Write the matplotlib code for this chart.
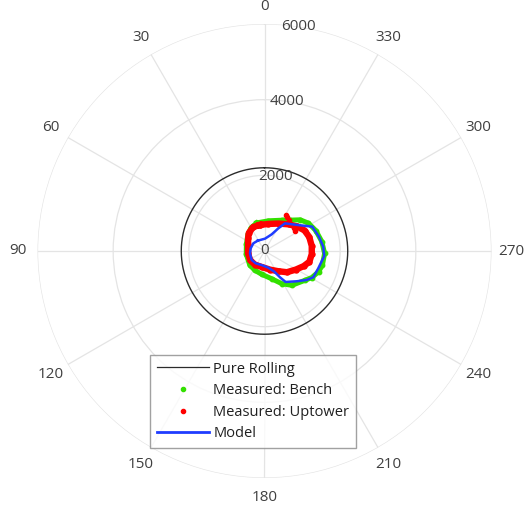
import numpy as np
import matplotlib
matplotlib.use("Agg")
import matplotlib.pyplot as plt
from matplotlib.lines import Line2D

plt.rcParams['font.family'] = ['Open Sans', 'DejaVu Sans']

# ---- data (theta in degrees, counter-clockwise from top; radius) ----
theta_ticks = [0, 30, 60, 90, 120, 150, 180, 210, 240, 270, 300, 330]
r_ticks = [0, 2000, 4000, 6000]
r_max = 6000
pure_rolling_radius = 2200

bench_theta = [15.8, 30, 45, 70, 100, 134, 153.4, 173, 194.7, 208, 218.6, 234.4,
               240.8, 249, 256.2, 267.7, 279.4, 291.7, 302.3, 311.1, 320, 330.5, 352.6]
bench_r = [770, 710, 620, 510, 490, 540, 570, 620, 760, 980, 1160, 1325,
           1436, 1530, 1575, 1590, 1535, 1460, 1375, 1254, 1065, 935, 805]

uptower_theta = [9.9, 25.3, 41.3, 51.9, 69.6, 98.2, 122.4, 144.5, 169.8, 196.7, 214.7, 226.6,
                 239.5, 248.9, 256.5, 266.3, 276.1, 287.1, 297.0, 307.1, 317.9, 332.9, 351.8]
uptower_r = [700, 700, 630, 550, 462, 440, 450, 440, 428, 515, 652, 816,
             965, 1110, 1220, 1252, 1256, 1240, 1192, 1078, 950, 815, 722]
uptower_spur_theta = [329.5, 326, 322, 308, 303]
uptower_spur_r = [1110, 1080, 1050, 975, 960]

model_theta = [33.5, 55.5, 79.1, 99.1, 125.0, 144.4, 171.4, 192.9, 205.4, 210.5, 214.3, 226.7,
               235.5, 241.7, 252.2, 265.2, 274.2, 284.7, 297.0, 307.5, 323.5, 328.6, 336.7, 357.7]
model_r = [327, 358, 372, 388, 414, 400, 383, 452, 604, 807, 991, 1167,
           1351, 1465, 1493, 1585, 1557, 1488, 1417, 1126, 909, 701, 479, 326]

labels = ['Pure Rolling', 'Measured: Bench', 'Measured: Uptower', 'Model']

# ---- colours ----
c_grid = '#e4e4e4'
c_text = '#404040'
c_bench = '#33e000'
c_up = '#ff0000'
c_model = '#1f3cff'
c_pure = '#2b2b2b'


def closed(t, r):
    t = list(t) + [t[0]]
    r = list(r) + [r[0]]
    return np.deg2rad(t), np.array(r)


W, H = 529, 507
fig = plt.figure(figsize=(W / 100, H / 100), dpi=100)
cx, cy, R = 264.5, 251, 227
ax = fig.add_axes([(cx - R) / W, (H - cy - R) / H, 2 * R / W, 2 * R / H], projection='polar')
ax.set_theta_zero_location('N')
ax.set_theta_direction(1)
ax.set_ylim(0, r_max)
ax.set_thetagrids(theta_ticks, labels=[''] * len(theta_ticks))
ax.set_rgrids(r_ticks[1:], labels=[''] * (len(r_ticks) - 1))
ax.grid(True, color=c_grid, lw=0.9)
ax.spines['polar'].set_visible(False)
ax.tick_params(length=0)
ax.set_facecolor('white')

# theta labels
for t in theta_ticks:
    rr = r_max * (1.078 if t == 0 else 1.088)
    ax.text(np.deg2rad(t), rr, str(t), ha='center', va='center',
            fontsize=11, color=c_text, clip_on=False)
# r labels
for rv in r_ticks:
    if rv == 0:
        ax.text(np.deg2rad(0), 0, '0', ha='center', va='center', fontsize=11,
                color=c_text, zorder=6)
    else:
        ax.text(np.deg2rad(351.5), rv, str(rv), ha='center', va='center',
                fontsize=11, color=c_text, zorder=6)

# pure rolling circle
tc = np.linspace(0, 2 * np.pi, 361)
ax.plot(tc, np.full_like(tc, pure_rolling_radius), color=c_pure, lw=1.0, zorder=3)

# bench
t, r = closed(bench_theta, bench_r)
ax.plot(t, r, color=c_bench, lw=3.6, marker='o', ms=3.2, solid_joinstyle='round', zorder=4)
# uptower
t, r = closed(uptower_theta, uptower_r)
ax.plot(t, r, color=c_up, lw=4.6, marker='o', ms=3.6, solid_joinstyle='round', zorder=5)
ax.plot(np.deg2rad(uptower_spur_theta), uptower_spur_r, color=c_up, lw=0, marker='o', ms=3, zorder=5)
# model
t, r = closed(model_theta, model_r)
ax.plot(t, r, color=c_model, lw=1.8, zorder=7)

handles = [
    Line2D([], [], color=c_pure, lw=0.9),
    Line2D([], [], color=c_bench, lw=0, marker='.', ms=6),
    Line2D([], [], color=c_up, lw=0, marker='.', ms=6),
    Line2D([], [], color=c_model, lw=2),
]
leg = fig.legend(handles, labels, loc='upper left', bbox_to_anchor=(150 / W, 1 - 355 / H),
                 bbox_transform=fig.transFigure, fontsize=10.5, frameon=True, fancybox=False,
                 borderaxespad=0, handlelength=3.6, handletextpad=0.3, labelspacing=0.45,
                 borderpad=0.45)
leg.get_frame().set_edgecolor('#8a8a8a')
leg.get_frame().set_linewidth(1.0)
for txt in leg.get_texts():
    txt.set_color('#202020')

fig.savefig('out.png', dpi=100, facecolor='white')
